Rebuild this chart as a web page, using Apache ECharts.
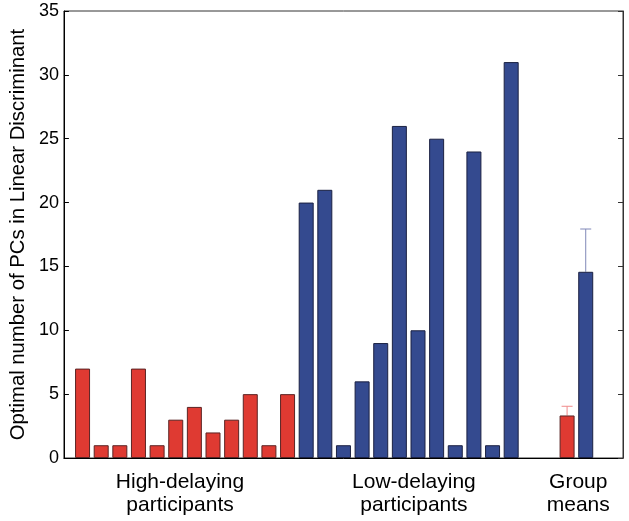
<!DOCTYPE html>
<html>
<head>
<meta charset="utf-8">
<script src="https://cdn.jsdelivr.net/npm/echarts@6/dist/echarts.min.js"></script>
<style>html,body{margin:0;padding:0;background:#fff}#c{width:629px;height:521px}</style>
</head>
<body>
<div id="c"></div>
<script>
// Data
var highDelaying = [7, 1, 1, 7, 1, 3, 4, 2, 3, 5, 1, 5];
var lowDelaying = [20, 21, 1, 6, 9, 26, 10, 25, 1, 24, 1, 31];
var groupMeans = [3.33, 14.58];      // high, low
var groupErrors = [0.72, 3.35];      // upward error (SE)
var groupLabels = ['High-delaying\nparticipants', 'Low-delaying\nparticipants', 'Group\nmeans'];
var yTicks = [0, 5, 10, 15, 20, 25, 30, 35];

var FONT = '"Liberation Sans", Arial, Helvetica, sans-serif';
var RED = '#df3a32', RED_B = '#5a2424';
var BLUE = '#344a8f', BLUE_B = '#1b2142';

var nH = highDelaying.length, nL = lowDelaying.length;
var highData = highDelaying.map(function (v, i) { return [i, v]; });
var lowData = lowDelaying.map(function (v, i) { return [nH + i, v]; });
var meanX0 = nH + nL + 2;
var meanRed = [[meanX0, groupMeans[0]]];
var meanBlue = [[meanX0 + 1, groupMeans[1]]];
var errData = groupMeans.map(function (m, i) { return [meanX0 + i, m, m + groupErrors[i], i]; });
var labelPos = [5.23, 17.78, 26.6];

var chart = echarts.init(document.getElementById('c'), null, { renderer: 'canvas' });
var barStyle = function (c, b) { return { color: c, borderColor: b, borderWidth: 1 }; };
chart.setOption({
  animation: false,
  backgroundColor: '#fff',
  grid: { left: 56, right: 6, top: 11, bottom: 63, show: true, borderColor: '#333', borderWidth: 1, backgroundColor: 'transparent' },
  xAxis: {
    type: 'value', min: -1, max: 29,
    splitLine: { show: false },
    axisLine: { show: true, onZero: false, lineStyle: { color: '#000', width: 1 } },
    axisTick: { show: false },
    axisLabel: {
      show: true, customValues: labelPos, margin: 13,
      fontFamily: FONT, fontSize: 21, lineHeight: 23, color: '#000',
      formatter: function (v) {
        for (var i = 0; i < labelPos.length; i++) if (Math.abs(v - labelPos[i]) < 1e-6) return groupLabels[i];
        return '';
      }
    }
  },
  yAxis: [{
    type: 'value', min: 0, max: 35, interval: 5, position: 'left',
    name: 'Optimal number of PCs in Linear Discriminant',
    nameLocation: 'middle', nameGap: 35,
    nameTextStyle: { fontFamily: FONT, fontSize: 20.3, color: '#000' },
    splitLine: { show: false },
    axisLine: { show: true, onZero: false, lineStyle: { color: '#000', width: 1 } },
    axisTick: { show: true, inside: true, length: 5, lineStyle: { color: '#000' } },
    axisLabel: { fontFamily: FONT, fontSize: 18, color: '#000', margin: 5,
      formatter: function (v) { return yTicks.indexOf(v) >= 0 ? String(v) : ''; } }
  }, {
    type: 'value', min: 0, max: 35, interval: 5, position: 'right',
    splitLine: { show: false },
    axisLine: { show: true, onZero: false, lineStyle: { color: '#333', width: 1 } },
    axisTick: { show: true, inside: true, length: 5, lineStyle: { color: '#333' } },
    axisLabel: { show: false }
  }],
  series: [
    { type: 'bar', data: highData, barWidth: 15, itemStyle: barStyle(RED, RED_B), barGap: '-100%' },
    { type: 'bar', data: lowData, barWidth: 15, itemStyle: barStyle(BLUE, BLUE_B), barGap: '-100%' },
    { type: 'bar', data: meanRed, barWidth: 15, itemStyle: barStyle(RED, RED_B), barGap: '-100%' },
    { type: 'bar', data: meanBlue, barWidth: 15, itemStyle: barStyle(BLUE, BLUE_B), barGap: '-100%' },
    {
      type: 'custom', data: errData, z: 1,
      renderItem: function (params, api) {
        var x = api.value(0), lo = api.value(1), hi = api.value(2), k = api.value(3);
        var p0 = api.coord([x, lo]), p1 = api.coord([x, hi]);
        var col = k === 0 ? '#f08a8a' : '#8088b8';
        var cap = 5.5;
        return {
          type: 'group',
          children: [
            { type: 'line', shape: { x1: p0[0], y1: p0[1], x2: p1[0], y2: p1[1] }, style: { stroke: col, lineWidth: 1 } },
            { type: 'line', shape: { x1: p1[0] - cap, y1: p1[1], x2: p1[0] + cap, y2: p1[1] }, style: { stroke: col, lineWidth: 1 } }
          ]
        };
      }
    }
  ]
});
</script>
</body>
</html>
